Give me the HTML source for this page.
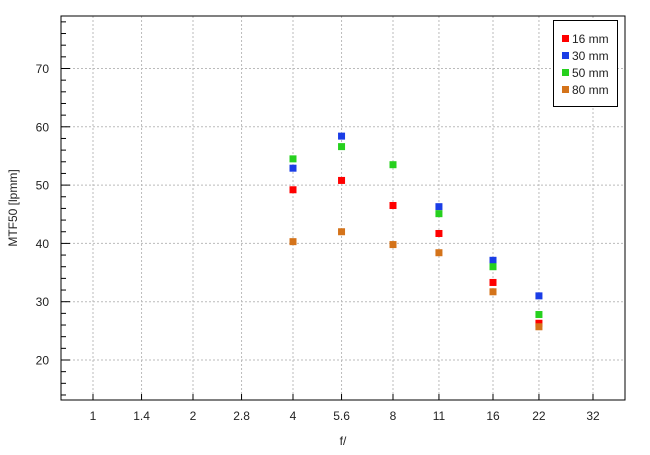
<!DOCTYPE html>
<html><head><meta charset="utf-8"><style>
body{margin:0;background:#fff;}
svg{display:block;font-family:"Liberation Sans",sans-serif;}
</style></head><body>
<svg id="chart" width="650" height="455">
<rect x="0" y="0" width="650" height="455" fill="#fff"/>
<g id="grid"></g><g id="axes"></g><g id="marks"></g>
</svg>
<script>
const fstops = [1, 1.4, 2, 2.8, 4, 5.6, 8, 11, 16, 22, 32];
const seriesNames = ["16 mm", "30 mm", "50 mm", "80 mm"];
const seriesColors = ["#ff0000", "#1a3de6", "#26d01e", "#d4731a"];
const apertures = [4, 5.6, 8, 11, 16, 22];
const s16 = [49.2, 50.8, 46.5, 41.7, 33.3, 26.3];
const s30 = [52.9, 58.4, null, 46.3, 37.1, 31.0];
const s50 = [54.5, 56.6, 53.5, 45.1, 36.0, 27.8];
const s80 = [40.3, 42.0, 39.8, 38.4, 31.7, 25.7];
const yTicks = [20, 30, 40, 50, 60, 70];
const NS = "http://www.w3.org/2000/svg";
const L = 61, R = 625, T = 16, B = 400;
const fx = n => 93 + 100 * Math.log2(n);
const fy = v => 68.5 + (70 - v) * 5.83;
function el(tag, attrs, parent, text) {
  const e = document.createElementNS(NS, tag);
  for (const k in attrs) e.setAttribute(k, attrs[k]);
  if (text !== undefined) e.textContent = text;
  parent.appendChild(e); return e;
}
const grid = document.getElementById('grid'), axes = document.getElementById('axes'), marks = document.getElementById('marks');
fstops.forEach(n => {
  const x = fx(n);
  const g = el('line', {x1: x, x2: x, y1: T, y2: B, stroke: '#bbb', 'stroke-dasharray': '2,2'}, grid);
  
  
  const t = el('line', {x1: x, x2: x, y1: B, y2: B - 6, stroke: '#000'}, axes);
  
  
  const lb = el('text', {x: x, y: 420, 'font-size': 12, 'text-anchor': 'middle', fill: '#222'}, axes, String(n));
  
  
});
yTicks.forEach(v => {
  const y = fy(v);
  const g = el('line', {x1: L, x2: R, y1: y, y2: y, stroke: '#bbb', 'stroke-dasharray': '2,2'}, grid);
  
  
  const lb = el('text', {x: 49, y: y + 4.5, 'font-size': 12, 'text-anchor': 'end', fill: '#222'}, axes, String(v));
  
  
});
for (let v = 14; v <= 78; v += 2) {
  const y = fy(v); const major = v % 10 === 0;
  const t = el('line', {x1: L, x2: L + (major ? 9 : 5), y1: y, y2: y, stroke: '#000'}, axes);
  
  
}
const frame = el('rect', {x: L, y: T, width: R - L, height: B - T, fill: 'none', stroke: '#000', 'stroke-width': 1}, axes);


const xt = el('text', {x: 343, y: 445, 'font-size': 12, 'text-anchor': 'middle', fill: '#222'}, axes, 'f/');


const yt = el('text', {x: 17, y: 208, 'font-size': 12, 'text-anchor': 'middle', fill: '#222', transform: 'rotate(-90 17 208)'}, axes, 'MTF50 [lpmm]');


const allSeries = [s16, s30, s50, s80];
allSeries.forEach((s, si) => {
  s.forEach((v, i) => {
    if (v === null) return;
    const r = el('rect', {x: fx(apertures[i]) - 3.5, y: fy(v) - 3.5, width: 7, height: 7, fill: seriesColors[si]}, marks);
    
    
  });
});
const lg = el('g', {}, marks);


el('rect', {x: 553.5, y: 20.5, width: 64, height: 86, fill: '#fff', stroke: '#000'}, lg);
seriesNames.forEach((nm, i) => {
  const y = 38.5 + i * 17;
  const sw = el('rect', {x: 562, y: y - 3.5, width: 7, height: 7, fill: seriesColors[i]}, lg);
  
  
  const t = el('text', {x: 572, y: y + 4.5, 'font-size': 12, fill: '#222'}, lg, nm);
  
  
});
</script>
</body></html>
